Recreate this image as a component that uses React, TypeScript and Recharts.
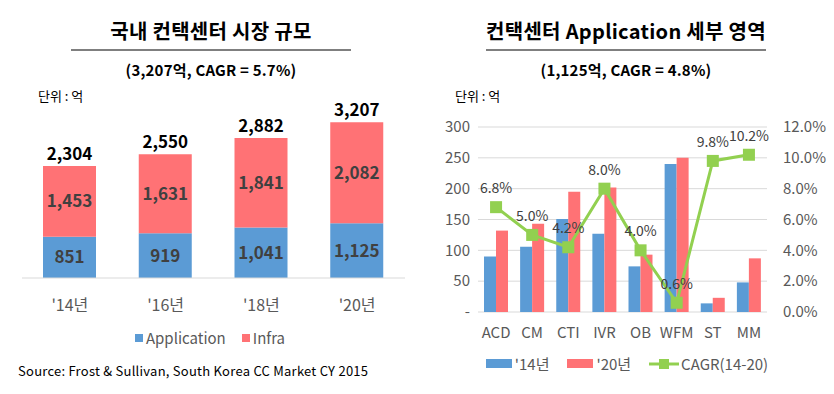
import React from 'react';
import { BarChart, Bar, XAxis, YAxis, LabelList, Legend, ComposedChart, Line, CartesianGrid } from 'recharts';

const FONT = "'Noto Sans CJK KR', 'Noto Sans', sans-serif";
const BLUE = '#5B9BD5';
const RED = '#FF7275';
const GREEN = '#92D050';

// 국내 컨택센터 시장 규모 (단위: 억)
const years = ["'14년", "'16년", "'18년", "'20년"];
const applicationValues = [851, 919, 1041, 1125];
const infraValues = [1453, 1631, 1841, 2082];

// 컨택센터 Application 세부 영역
const segments = ['ACD', 'CM', 'CTI', 'IVR', 'OB', 'WFM', 'ST', 'MM'];
const values14 = [90, 106, 151, 127, 74, 240, 14, 48];
const values20 = [132, 143, 195, 202, 93, 250, 23, 87];
const cagrValues = [6.8, 5.0, 4.2, 8.0, 4.0, 0.6, 9.8, 10.2];
const leftTicks = [0, 50, 100, 150, 200, 250, 300];
const rightTicks = [0, 2, 4, 6, 8, 10, 12];

const marketData = years.map((year, i) => ({
  year,
  application: applicationValues[i],
  infra: infraValues[i],
  total: applicationValues[i] + infraValues[i],
}));

const segmentData = segments.map((name, i) => ({
  name,
  y14: values14[i],
  y20: values20[i],
  cagr: cagrValues[i],
}));

const fmt = (v: any) => Number(v).toLocaleString('en-US');

const Header = ({ x, title, sub }: { x: number; title: string; sub: string }) => (
  <>
    <div style={{ position: 'absolute', left: x, top: 16, width: 280, textAlign: 'center', fontSize: 20, fontWeight: 'bold', color: '#000', lineHeight: '30px', letterSpacing: 0.3 }}>
      {title}
    </div>
    <div style={{ position: 'absolute', left: x, top: 49, width: 280, height: 2, background: '#7F7F7F' }} />
    <div style={{ position: 'absolute', left: x, top: 59, width: 280, textAlign: 'center', fontSize: 15, fontWeight: 'bold', color: '#000', lineHeight: '22px', letterSpacing: 0.2 }}>
      {sub}
    </div>
  </>
);

const LeftLegend = () => (
  <div style={{ display: 'flex', justifyContent: 'center', alignItems: 'center', fontFamily: FONT, fontSize: 15, color: '#595959' }}>
    <span style={{ width: 8, height: 8, background: BLUE, marginRight: 3 }} />
    <span style={{ marginRight: 16 }}>Application</span>
    <span style={{ width: 8, height: 8, background: RED, marginRight: 3 }} />
    <span>Infra</span>
  </div>
);

const RightLegend = () => (
  <div style={{ display: 'flex', justifyContent: 'center', alignItems: 'center', fontFamily: FONT, fontSize: 15, color: '#595959' }}>
    <span style={{ width: 26, height: 9, background: BLUE, marginRight: 3 }} />
    <span style={{ marginRight: 18 }}>'14년</span>
    <span style={{ width: 26, height: 9, background: RED, marginRight: 3 }} />
    <span style={{ marginRight: 18 }}>'20년</span>
    <svg width={30} height={12} style={{ marginRight: 2 }}>
      <line x1={0} y1={6} x2={30} y2={6} stroke={GREEN} strokeWidth={3} />
      <rect x={10} y={1} width={10} height={10} fill={GREEN} />
    </svg>
    <span>CAGR(14-20)</span>
  </div>
);

const SquareDot = (props: any) => {
  const { cx, cy, index } = props;
  if (cx == null || cy == null) return <g key={index} />;
  return <rect key={index} x={cx - 6} y={cy - 6} width={12} height={12} fill={GREEN} />;
};

export default function App() {
  return (
    <div style={{ position: 'absolute', left: 0, top: 0, width: 834, height: 394, background: '#fff', fontFamily: FONT, overflow: 'hidden' }}>
      <Header x={71} title="국내 컨택센터 시장 규모" sub="(3,207억, CAGR = 5.7%)" />
      <Header x={486} title="컨택센터 Application 세부 영역" sub="(1,125억, CAGR = 4.8%)" />
      <div style={{ position: 'absolute', left: 38, top: 86, fontSize: 13, color: '#000' }}>단위 : 억</div>
      <div style={{ position: 'absolute', left: 455, top: 86, fontSize: 13, color: '#000' }}>단위 : 억</div>
      <div style={{ position: 'absolute', left: 18, top: 361, fontSize: 13, color: '#000', letterSpacing: 0.25 }}>
        Source: Frost &amp; Sullivan, South Korea CC Market CY 2015
      </div>

      <div style={{ position: 'absolute', left: 0, top: 0 }}>
        <BarChart width={420} height={394} data={marketData} margin={{ top: 108, right: 15, left: 22, bottom: 86 }}>
          <XAxis
            dataKey="year"
            axisLine={{ stroke: '#D9D9D9' }}
            tickLine={false}
            tick={{ fill: '#595959', fontSize: 16, fontFamily: FONT }}
            tickMargin={16}
            height={30}
          />
          <YAxis hide domain={[0, 3500]} />
          <Bar dataKey="application" stackId="a" fill={BLUE} barSize={53} isAnimationActive={false}>
            <LabelList dataKey="application" position="center" formatter={fmt} fill="#404040" fontSize={17} fontWeight="bold" fontFamily={FONT} />
          </Bar>
          <Bar dataKey="infra" stackId="a" fill={RED} barSize={53} isAnimationActive={false}>
            <LabelList dataKey="infra" position="center" formatter={fmt} fill="#404040" fontSize={17} fontWeight="bold" fontFamily={FONT} />
            <LabelList dataKey="total" position="top" offset={6} formatter={fmt} fill="#000" fontSize={17} fontWeight="bold" fontFamily={FONT} />
          </Bar>
          <Legend
            layout="horizontal"
            verticalAlign="middle"
            align="center"
            content={() => <LeftLegend />}
            wrapperStyle={{ top: 327, left: 0, width: 420 }}
          />
        </BarChart>
      </div>

      <div style={{ position: 'absolute', left: 420, top: 0 }}>
        <ComposedChart width={414} height={394} data={segmentData} margin={{ top: 127, right: 0, left: 0, bottom: 52 }} barGap={0}>
          <CartesianGrid vertical={false} stroke="#D9D9D9" yAxisId="left" />
          <XAxis
            dataKey="name"
            axisLine={false}
            tickLine={false}
            tick={{ fill: '#595959', fontSize: 15, fontFamily: FONT }}
            tickMargin={9}
            height={30}
          />
          <YAxis
            yAxisId="left"
            width={58}
            domain={[0, 300]}
            ticks={leftTicks}
            axisLine={false}
            tickLine={false}
            tick={{ fill: '#595959', fontSize: 15, fontFamily: FONT }}
            tickFormatter={(v: number) => (v === 0 ? '-' : String(v))}
          />
          <YAxis
            yAxisId="right"
            orientation="right"
            width={67}
            domain={[0, 12]}
            ticks={rightTicks}
            axisLine={false}
            tickLine={false}
            tickMargin={10}
            tick={{ fill: '#595959', fontSize: 15, fontFamily: FONT }}
            tickFormatter={(v: number) => v.toFixed(1) + '%'}
          />
          <Bar yAxisId="left" dataKey="y14" fill={BLUE} barSize={12} isAnimationActive={false} />
          <Bar yAxisId="left" dataKey="y20" fill={RED} barSize={12} isAnimationActive={false} />
          <Line
            yAxisId="right"
            dataKey="cagr"
            stroke={GREEN}
            strokeWidth={3}
            dot={SquareDot}
            activeDot={false}
            isAnimationActive={false}
          >
            <LabelList dataKey="cagr" position="top" offset={14} formatter={(v: any) => Number(v).toFixed(1) + '%'} fill="#404040" fontSize={14} fontFamily={FONT} />
          </Line>
          <Legend
            layout="horizontal"
            verticalAlign="middle"
            align="center"
            content={() => <RightLegend />}
            wrapperStyle={{ top: 353, left: 0, width: 414 }}
          />
        </ComposedChart>
      </div>
    </div>
  );
}
